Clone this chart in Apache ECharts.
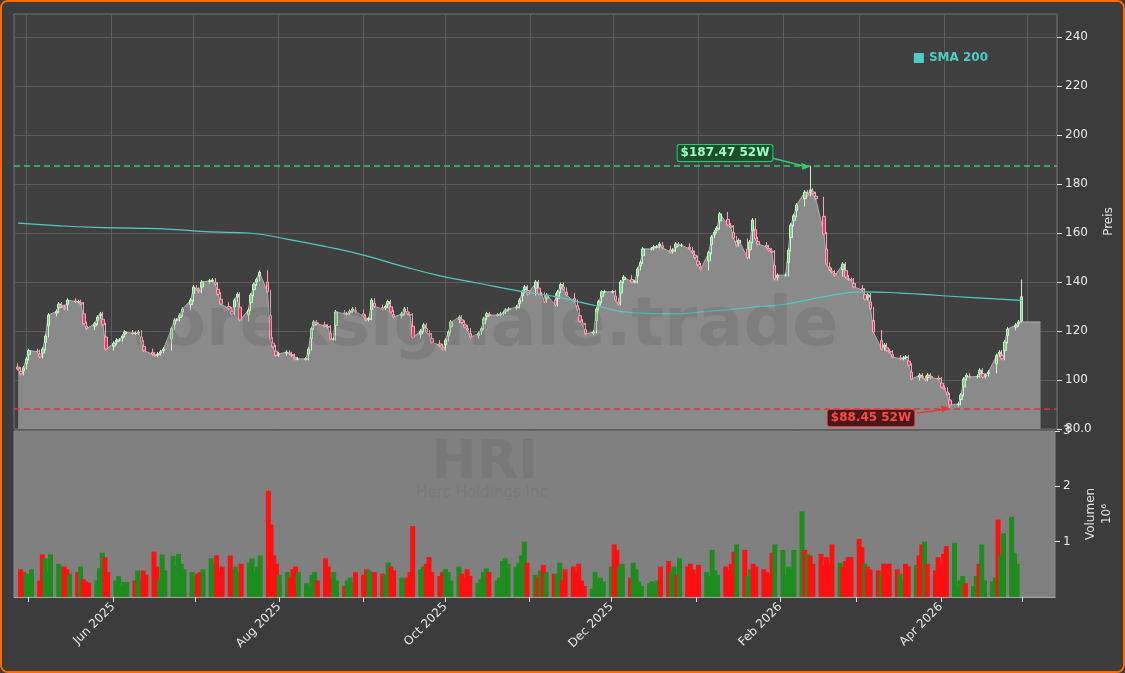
<!DOCTYPE html>
<html>
<head>
<meta charset="utf-8">
<script src="https://cdn.jsdelivr.net/npm/echarts@6/dist/echarts.min.js"></script>
<style>
  html, body { margin: 0; padding: 0; background: #3c3c3c; }
  #frame { position: absolute; left: 0; top: 0; width: 1121px; height: 669px; border: 2px solid #ff6a00; border-radius: 8px; background: #3c3c3c; overflow: hidden; }
  #chart { width: 1121px; height: 669px; }
</style>
</head>
<body>
<div id="frame"><div id="chart"></div></div>
<script>
// daily closes (price area)
var closes = [
  104.5,102.5,105,108.6,112,111.6,109.4,112.6,118,126.5,
  128,131,130,129,132.6,132,132,131,123,121,
  123,125.7,127,122.5,112.6,115,116.3,116.3,118,119.6,
  119,119,119.6,115.5,112,110.5,110,110.6,111.5,112.6,
  121,124.5,124.5,126.5,129,132.6,138,137,136,140,
  140.5,140.8,139,135,131,129,127,132.6,135,124.5,
  128.6,134.7,139,141,144,136,116.7,113.5,110,110.6,
  111.4,110.8,110,108.6,108.6,108.6,112.6,121,123.7,123,
  122,121.6,116.7,116.7,127.8,127,127,128,129,128,
  126,124.5,125,132.6,130,129,130,132,127.8,125.7,
  127,129,127,126.5,117.5,120,122.5,119.6,118.4,115.5,
  114,112.6,116.3,119.6,123.7,125.7,123.5,121.6,120.4,117.5,
  119,121,125,127,126.5,126.5,127,127.5,128.6,129,
  129.8,132.6,136,138,135,140,135,135,132,134.7,
  130.6,136,139,137,134.7,132,128.6,124,122.5,118.8,
  119.6,129,132,136,136,136,132.6,131,140,142,
  140,140,145.3,148,153.5,153.5,154.3,154.3,155.5,154,
  152.2,153,155.5,155,155,153.5,152,150,147,145.3,
  152,158.4,160.4,162,167.8,163.3,162.4,158,155,157,
  150,156.3,165.3,157.6,155.5,154.3,153,152.2,141.2,142.8,
  142.8,153,163.3,167,171.4,176.7,175.5,177.6,176,174,
  159.6,147.3,145,144,142.8,147.3,142,141,140.8,138,
  136.7,133,134.7,129,119.6,112.6,114.3,112,111.4,109.4,
  108.6,109,109.4,106,100.4,102,101,100,102,101,
  100.4,97,96.3,93.9,89.8,90.2,93.9,100.4,102,101.2,
  101.5,104,101.2,102,103.3,110,111.4,108.6,115.5,120.8,
  122.4,123.7,123.7
];
var lastCandle = { open: 124, close: 134, high: 141, low: 123.5 };
var extremes = { 207: { high: 187.47 }, 244: { low: 88.45 } };
var areaEndDate = '2026-05-06';

// volume in millions
var volumes = [
  0.5,0.45,0.42,0.42,0.5,0.3,0.77,0.7,0.45,0.77,
  0.6,0.55,0.55,0.5,0.42,0.45,0.55,0.32,0.28,0.26,
  0.3,0.52,0.8,0.72,0.45,0.3,0.38,0.2,0.27,0.27,
  0.3,0.48,0.3,0.48,0.4,0.82,0.55,0.32,0.77,0.48,
  0.74,0.56,0.78,0.6,0.5,0.45,0.38,0.42,0.45,0.5,
  0.7,0.6,0.75,0.45,0.55,0.75,0.5,0.55,0.45,0.6,
  0.62,0.7,0.45,0.55,0.75,1.92,1.31,0.75,0.6,0.4,
  0.45,0.35,0.5,0.55,0.45,0.25,0.2,0.4,0.45,0.3,
  0.7,0.55,0.35,0.45,0.3,0.2,0.3,0.35,0.25,0.45,
  0.4,0.5,0.48,0.45,0.45,0.42,0.4,0.62,0.55,0.48,
  0.35,0.32,0.35,0.45,1.28,0.5,0.55,0.6,0.72,0.45,
  0.38,0.45,0.5,0.45,0.3,0.55,0.42,0.35,0.5,0.38,
  0.25,0.32,0.45,0.52,0.45,0.3,0.35,0.65,0.7,0.6,
  0.55,0.62,0.75,1.0,0.62,0.4,0.35,0.48,0.58,0.45,
  0.42,0.42,0.62,0.3,0.5,0.55,0.45,0.6,0.3,0.2,
  0.15,0.45,0.3,0.35,0.28,0.55,0.95,0.85,0.55,0.6,
  0.35,0.62,0.5,0.28,0.2,0.25,0.28,0.22,0.3,0.55,
  0.65,0.45,0.55,0.4,0.7,0.55,0.6,0.5,0.42,0.58,
  0.45,0.38,0.85,0.48,0.4,0.55,0.48,0.6,0.82,0.95,
  0.85,0.38,0.5,0.6,0.55,0.5,0.45,0.4,0.8,0.95,
  0.85,0.4,0.55,0.5,0.85,1.55,0.85,0.78,0.75,0.6,
  0.78,0.55,0.72,0.6,0.95,0.62,0.55,0.65,0.72,0.72,
  1.05,0.9,0.6,0.55,0.5,0.48,0.42,0.6,0.58,0.6,
  0.5,0.42,0.3,0.6,0.55,0.58,0.75,0.95,1.0,0.6,
  0.48,0.72,0.6,0.78,0.92,0.98,0.2,0.3,0.38,0.25,
  0.2,0.38,0.6,0.95,0.3,0.28,0.35,1.4,0.75,1.15,
  1.45,0.8,0.6
];

// SMA 200 read every 10 sessions
var smaIdx = [0,10,20,30,40,50,60,70,80,90,100,110,120,130,140,150,160,170,180,190,200,210,220,230,240,250,262];
var smaVal = [164,163,162.3,162,161.5,160.5,160,157.5,154.5,151,146.5,142.5,139.5,136.5,134,130.5,127.5,127,128,129.5,131,134,136,135.5,134.5,133.5,132.5];

var high52 = 187.47, low52 = 88.45;
var monthNames = ['Jan','Feb','Mar','Apr','May','Jun','Jul','Aug','Sep','Oct','Nov','Dec'];

// trading days (weekdays) from 28 Apr 2025
var dates = [];
var d = new Date(Date.UTC(2025, 3, 28));
while (dates.length < closes.length) {
  var wd = d.getUTCDay();
  if (wd !== 0 && wd !== 6) dates.push(d.getTime());
  d = new Date(d.getTime() + 86400000);
}

var candles = [], vols = [], area = [];
for (var i = 0; i < closes.length; i++) {
  var prev = i === 0 ? 106 : closes[i - 1], c = closes[i];
  var o = (prev + c) / 2;
  var hi = Math.max(prev, c) + 0.8, lo = Math.min(prev, c) - 0.6;
  if (i === closes.length - 1) { o = lastCandle.open; c = lastCandle.close; hi = lastCandle.high; lo = lastCandle.low; }
  if (extremes[i] && extremes[i].high) hi = extremes[i].high;
  if (extremes[i] && extremes[i].low) lo = extremes[i].low;
  candles.push([dates[i], o, c, lo, hi]);
  area.push([dates[i], closes[i]]);
  vols.push({ value: [dates[i], volumes[i]], itemStyle: { color: c >= o ? '#1e8c1e' : '#ff1010' } });
}
area.push([new Date(areaEndDate).getTime(), closes[closes.length - 1]]);
var sma = smaIdx.map(function (k, j) { return [dates[k], smaVal[j]]; });

var xMin = Date.UTC(2025, 3, 26, 12), xMax = Date.UTC(2026, 4, 12);

var chart = echarts.init(document.getElementById('chart'));
var option = {
  backgroundColor: '#3c3c3c',
  animation: false,
  legend: {
    data: [{ name: 'SMA 200', icon: 'rect' }],
    right: 130, top: 45, itemWidth: 10, itemHeight: 10,
    textStyle: { color: '#4ecdc4', fontWeight: 'bold', fontSize: 12, fontFamily: 'DejaVu Sans' }
  },
  grid: [
    { left: 12, right: 66, top: 12, height: 415, show: true, backgroundColor: '#404040', borderColor: '#777', borderWidth: 1 },
    { left: 12, right: 66, top: 429, height: 166, show: true, backgroundColor: '#808080', borderColor: '#888', borderWidth: 1 }
  ],
  xAxis: [
    { type: 'time', gridIndex: 0, min: xMin, max: xMax, minInterval: 28 * 86400000, maxInterval: 31 * 86400000,
      axisLine: { show: false }, axisTick: { show: false }, axisLabel: { show: false },
      splitLine: { show: true, lineStyle: { color: '#5c5c5c', width: 1 } } },
    { type: 'time', gridIndex: 1, min: xMin, max: xMax, minInterval: 28 * 86400000, maxInterval: 31 * 86400000,
      axisLine: { show: true, lineStyle: { color: '#aaa' } },
      axisTick: { show: true, lineStyle: { color: '#ddd' }, length: 5 },
      splitLine: { show: false },
      axisLabel: { color: '#e8e8e8', fontSize: 12, rotate: 45, fontFamily: 'DejaVu Sans', hideOverlap: false,
        formatter: function (v) {
          var t = new Date(v);
          if (t.getUTCDate() !== 1 || t.getUTCMonth() % 2 === 0) return '';
          return monthNames[t.getUTCMonth()] + ' ' + t.getUTCFullYear();
        } } }
  ],
  yAxis: [
    { type: 'value', gridIndex: 0, position: 'right', min: 80, max: 249.4, interval: 20,
      name: 'Preis', nameLocation: 'middle', nameRotate: 90, nameGap: 42,
      nameTextStyle: { color: '#e0e0e0', fontSize: 12, fontFamily: 'DejaVu Sans' },
      axisLine: { show: false }, axisTick: { show: true, lineStyle: { color: '#ddd' } },
      axisLabel: { color: '#e8e8e8', fontSize: 12, fontFamily: 'DejaVu Sans', showMaxLabel: false,
        formatter: function (v) { return v === 80 ? '80.0' : v; } },
      splitLine: { show: true, lineStyle: { color: '#5c5c5c' } } },
    { type: 'value', gridIndex: 1, position: 'right', min: 0, max: 3, interval: 1,
      name: 'Volumen\n10\u2076', nameLocation: 'middle', nameRotate: 90, nameGap: 28,
      nameTextStyle: { color: '#e0e0e0', fontSize: 12, fontFamily: 'DejaVu Sans', lineHeight: 16 },
      axisLine: { show: false }, axisTick: { show: true, lineStyle: { color: '#ddd' } },
      axisLabel: { color: '#e8e8e8', fontSize: 12, fontFamily: 'DejaVu Sans', showMinLabel: false },
      splitLine: { show: false } }
  ],
  series: [
    { name: 'area', type: 'line', xAxisIndex: 0, yAxisIndex: 0, data: area, symbol: 'none',
      lineStyle: { color: '#b0b0b0', width: 1 }, areaStyle: { color: '#8a8a8a', opacity: 1, origin: 'start' }, z: 1 },
    { name: 'candles', type: 'candlestick', xAxisIndex: 0, yAxisIndex: 0, data: candles, barWidth: 3,
      itemStyle: { color: '#7ed67e', color0: '#e23c66', borderColor: '#c8f2c8', borderColor0: '#f0a8b8', borderWidth: 1 }, z: 3 },
    { name: 'SMA 200', type: 'line', xAxisIndex: 0, yAxisIndex: 0, data: sma, symbol: 'none', smooth: true,
      color: '#4ecdc4', lineStyle: { color: '#4ecdc4', width: 1.2 }, z: 4,
      markLine: { silent: true, symbol: 'none', label: { show: false },
        data: [
          { yAxis: high52, lineStyle: { color: '#2ecc71', type: [6, 4], width: 1.5 } },
          { yAxis: low52, lineStyle: { color: '#e03a3a', type: [6, 4], width: 1.5 } }
        ] } },
    { name: 'vol', type: 'bar', xAxisIndex: 1, yAxisIndex: 1, data: vols, barWidth: 5 }
  ]
};
chart.setOption(option);

// annotations and watermark
var peak = chart.convertToPixel({ gridIndex: 0 }, [dates[207], high52]);
var trough = chart.convertToPixel({ gridIndex: 0 }, [dates[244], low52]);
chart.setOption({
  graphic: [
    { type: 'text', x: 482, y: 325, z: 100, silent: true,
      style: { text: 'forexsignale.trade', align: 'center', verticalAlign: 'middle', fill: 'rgba(70,70,70,0.16)', font: 'bold 68px DejaVu Sans' } },
    { type: 'text', x: 483, y: 462, z: 100, silent: true,
      style: { text: 'HRI', align: 'center', verticalAlign: 'middle', fill: 'rgba(70,70,70,0.14)', font: 'bold 54px DejaVu Sans' } },
    { type: 'text', x: 480, y: 491, z: 100, silent: true,
      style: { text: 'Herc Holdings Inc', align: 'center', verticalAlign: 'middle', fill: 'rgba(70,70,70,0.12)', font: '15px DejaVu Sans' } },
    { type: 'line', z: 120, shape: { x1: 770, y1: 156, x2: peak[0] - 4, y2: peak[1] + 1 }, style: { stroke: '#2ecc71', lineWidth: 1.5 } },
    { type: 'polygon', z: 120, shape: { points: [[peak[0], peak[1] + 1], [peak[0] - 9, peak[1] - 3], [peak[0] - 8, peak[1] + 4]] }, style: { fill: '#2ecc71' } },
    { type: 'text', x: 723, y: 151, z: 121,
      style: { text: '$187.47 52W', align: 'center', verticalAlign: 'middle', fill: '#9cffc0', font: 'bold 12px DejaVu Sans',
        backgroundColor: '#1e4d2c', borderColor: '#2ecc71', borderWidth: 1, borderRadius: 2, padding: [2, 3] } },
    { type: 'line', z: 120, shape: { x1: 915, y1: 411, x2: trough[0] - 4, y2: trough[1] + 1 }, style: { stroke: '#e03a3a', lineWidth: 1.5 } },
    { type: 'polygon', z: 120, shape: { points: [[trough[0], trough[1]], [trough[0] - 9, trough[1] - 3], [trough[0] - 8, trough[1] + 4]] }, style: { fill: '#e03a3a' } },
    { type: 'text', x: 869, y: 416, z: 121,
      style: { text: '$88.45 52W', align: 'center', verticalAlign: 'middle', fill: '#ff4a4a', font: 'bold 12px DejaVu Sans',
        backgroundColor: '#4a1818', borderColor: '#e03a3a', borderWidth: 1, borderRadius: 2, padding: [2, 3] } }
  ]
});
</script>
</body>
</html>
